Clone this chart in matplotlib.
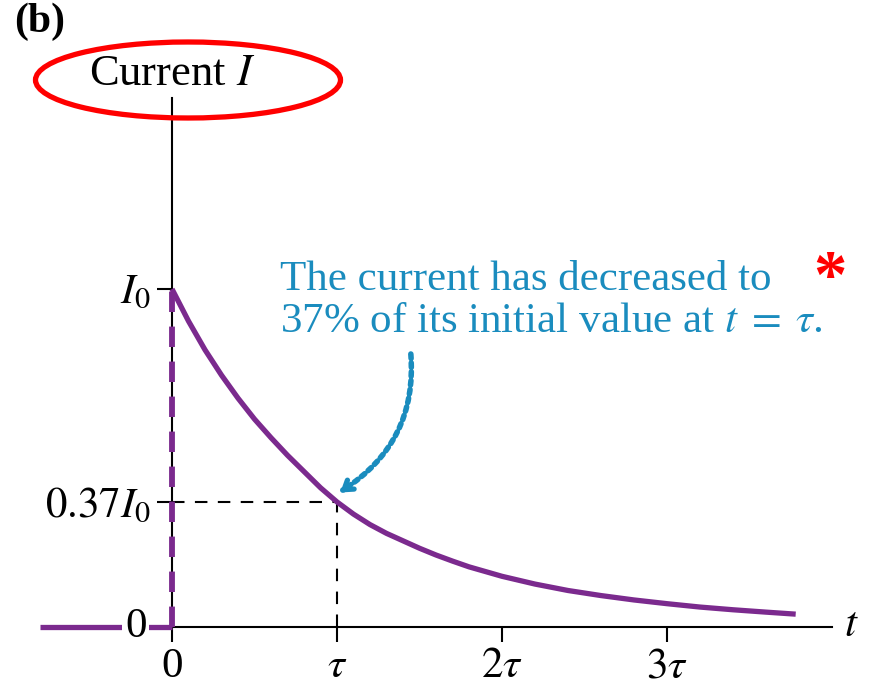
import numpy as np
import matplotlib.pyplot as plt
from matplotlib.patches import Ellipse

plt.rcParams['font.family'] = 'serif'
plt.rcParams['font.serif'] = ['Liberation Serif', 'DejaVu Serif']
plt.rcParams['mathtext.fontset'] = 'stix'

# decay curve, time in units of tau, current in units of I0
t_vals = [0.0, 0.1, 0.2, 0.3, 0.4, 0.5, 0.6, 0.7, 0.8, 0.9, 1.0,
          1.1, 1.2, 1.3, 1.4, 1.5, 1.6, 1.7, 1.8, 2.0, 2.2, 2.4, 2.6,
          2.8, 3.0, 3.2, 3.4, 3.6, 3.78]
i_vals = [1.0, 0.905, 0.82, 0.745, 0.677, 0.615, 0.56, 0.508, 0.46, 0.412, 0.37,
          0.334, 0.303, 0.277, 0.255, 0.233, 0.213, 0.195, 0.178, 0.15, 0.127,
          0.108, 0.093, 0.08, 0.069, 0.059, 0.051, 0.044, 0.038]
t_before = [-0.8, 0.0]          # current is zero before the switch
tau_mark = 1.0
frac_at_tau = 0.37

xticks = [0, 1, 2, 3]
xtick_labels = ['0', r'$\tau$', r'$2\tau$', r'$3\tau$']
yticks = [frac_at_tau, 1.0]
ytick_labels = [r'$0.37I_0$', r'$I_0$']

purple = '#7b2a8e'
blue = '#1a8cbe'
fs = 31

fig = plt.figure(figsize=(8.72, 6.85), dpi=100)
ax = fig.add_axes([0, 0, 1, 1])
ax.set_xlim(-172 / 165, 700 / 165)
ax.set_ylim(-58 / 338, 627 / 338)
ax.patch.set_alpha(0)

# axes through the origin
for side in ['top', 'right']:
    ax.spines[side].set_visible(False)
ax.spines['left'].set_position(('data', 0))
ax.spines['bottom'].set_position(('data', 0))
ax.spines['left'].set_bounds(0, 1.565)
ax.spines['bottom'].set_bounds(0, 4.0)
ax.spines['left'].set_linewidth(1.5)
ax.spines['bottom'].set_linewidth(1.5)

ax.set_xticks(xticks)
ax.set_xticklabels(xtick_labels, fontsize=fs)
ax.set_yticks(yticks)
ax.set_yticklabels(ytick_labels, fontsize=fs)
ax.tick_params(axis='both', direction='out', length=11, width=1.5, pad=4)

# the curve and the zero current before t = 0
ax.plot(t_vals, i_vals, color=purple, lw=3.8, solid_capstyle='butt',
        solid_joinstyle='round', zorder=4)
ax.plot(t_before, [0, 0], color=purple, lw=3.8, solid_capstyle='butt', zorder=4)
ax.plot([0, 0], [0, 1.0], color=purple, lw=4.2, ls=(0, (3.5, 2.5)), zorder=3)

# guides at t = tau
ax.plot([0, tau_mark], [frac_at_tau, frac_at_tau], color='black', lw=1.5,
        ls=(0, (6, 5)), zorder=2)
ax.plot([tau_mark, tau_mark], [0, frac_at_tau], color='black', lw=1.5,
        ls=(0, (6, 5)), zorder=2)

ax.text(-0.22, 0, '0', fontsize=fs, ha='center', va='center', zorder=5,
        bbox=dict(facecolor='white', edgecolor='none', pad=2))
ax.text(4.12, 0.005, r'$t$', fontsize=fs, ha='center', va='center')
ax.text(0, 1.635, r'Current $I$', fontsize=32, ha='center', va='center')

# note with curved dotted arrow
ax.text(0.655, 0.965, 'The current has decreased to\n'
        r'37% of its initial value at $t\;=\;\tau$.',
        fontsize=31, color=blue, ha='left', va='center', linespacing=1.1)
ax.annotate('', xy=(tau_mark + 0.035, frac_at_tau + 0.035), xytext=(49, 98),
            textcoords='offset points',
            arrowprops=dict(arrowstyle='-', color=blue, lw=4,
                            ls=(0, (0.8, 0.8)),
                            connectionstyle='arc3,rad=-0.3',
                            shrinkA=0, shrinkB=0))
ax.annotate('', xy=(tau_mark + 0.02, frac_at_tau + 0.028), xytext=(4, 3),
            textcoords='offset points',
            arrowprops=dict(arrowstyle='->,head_length=0.6,head_width=0.4',
                            color=blue, lw=3.8, shrinkA=0, shrinkB=0))

# panel label, highlight ring and star
fig.text(40 / 872, 1 - 22 / 685, '(b)', fontsize=30, fontweight='bold',
         ha='center', va='center')
fig.patches.append(Ellipse((188 / 872, 1 - 80 / 685), 305 / 872, 76 / 685,
                           transform=fig.transFigure, fill=False,
                           edgecolor='#ff0000', lw=3.8))
fig.text(830 / 872, 1 - 280 / 685, '*', fontsize=48, fontweight='bold',
         color='#ff0000', ha='center', va='center')

fig.savefig('out.png', dpi=100)
